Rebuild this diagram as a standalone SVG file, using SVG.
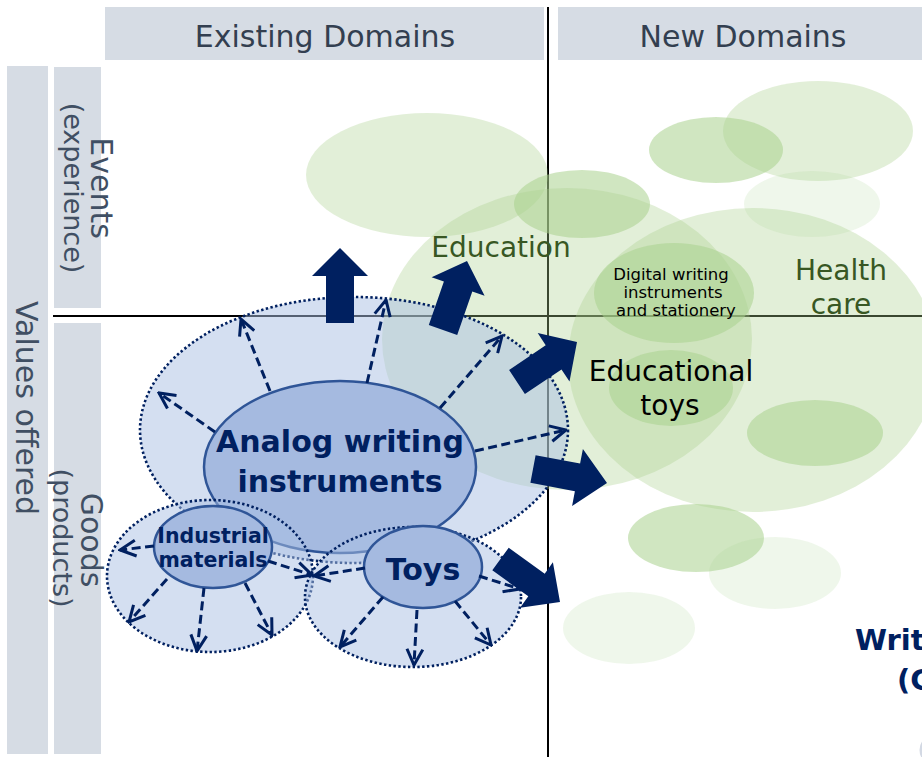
<svg xmlns="http://www.w3.org/2000/svg" width="922" height="757" viewBox="0 0 922 757">
<style>
.hdr{fill:#D6DCE4}
.hdrt{font-family:"DejaVu Sans",Verdana,sans-serif;font-size:30px;fill:#333F50;text-anchor:middle}
.side{font-family:"DejaVu Sans",Verdana,sans-serif;fill:#404F63;text-anchor:middle}
.axis{stroke:#000;stroke-width:2;fill:none}
.gL{fill:#A9D18E;opacity:0.34}
.gM{fill:#A9D18E;opacity:0.55}
.gP{fill:#A9D18E;opacity:0.18}
.gt{font-family:"DejaVu Sans",Verdana,sans-serif;font-size:28px;fill:#385723;text-anchor:middle}
.bt{font-family:"DejaVu Sans",Verdana,sans-serif;fill:#000;text-anchor:middle}
.outer{fill:#A9BFE3;fill-opacity:0.5;stroke:#002060;stroke-width:2.6;stroke-dasharray:2.4 2.4}
.inner{fill:#A5BAE0;stroke:#2F5597;stroke-width:2.5}
.nt{font-family:"DejaVu Sans",Verdana,sans-serif;font-weight:bold;fill:#002060;text-anchor:middle}
.da{stroke:#002060;stroke-width:3;stroke-dasharray:9 4.5;fill:none;marker-end:url(#oa)}
.blk{fill:#002060}
</style>
<defs>
<marker id="oa" viewBox="0 0 12 12" refX="11" refY="6" markerWidth="19" markerHeight="19" markerUnits="userSpaceOnUse" orient="auto">
<path d="M1,1 L11,6 L1,11" fill="none" stroke="#002060" stroke-width="1.9" stroke-dasharray="none"/>
</marker>
</defs>
<rect width="922" height="757" fill="#fff"/>
<g id="headers">
<rect class="hdr" x="105" y="7" width="439" height="53"/>
<rect class="hdr" x="558" y="7" width="364" height="53"/>
<text class="hdrt" x="325" y="47">Existing Domains</text>
<text class="hdrt" x="743" y="47">New Domains</text>
</g>
<g id="side-labels">
<rect class="hdr" x="7" y="66" width="41" height="688"/>
<rect class="hdr" x="54" y="67" width="47" height="241"/>
<rect class="hdr" x="54" y="323" width="47" height="431"/>
<text class="side" font-size="30" transform="translate(16,408) rotate(90)">Values offered</text>
<text class="side" font-size="30" transform="translate(91,188) rotate(90)">Events</text>
<text class="side" font-size="27" transform="translate(64,188) rotate(90)">(experience)</text>
<text class="side" font-size="30" transform="translate(81,540) rotate(90)">Goods</text>
<text class="side" font-size="27" transform="translate(53,538) rotate(90)">(products)</text>
</g>
<g id="axes">
<line class="axis" x1="548" y1="7" x2="548" y2="757"/>
<line class="axis" x1="53" y1="316" x2="922" y2="316"/>
</g>
<g id="green-areas">
<ellipse class="gL" cx="427" cy="175" rx="121" ry="62"/>
<ellipse class="gL" cx="818" cy="131" rx="95" ry="50"/>
<ellipse class="gM" cx="716" cy="150" rx="67" ry="33"/>
<ellipse class="gP" cx="812" cy="204" rx="68" ry="33"/>
<ellipse class="gM" cx="582" cy="204" rx="68" ry="34"/>
<ellipse class="gL" cx="567" cy="339" rx="185" ry="151"/>
<ellipse class="gL" cx="753" cy="360" rx="185" ry="152"/>
<ellipse class="gM" cx="674" cy="293" rx="80" ry="50"/>
<ellipse class="gM" cx="671" cy="388" rx="62" ry="38"/>
<ellipse class="gM" cx="815" cy="433" rx="68" ry="33"/>
<ellipse class="gM" cx="696" cy="538" rx="68" ry="34"/>
<ellipse class="gP" cx="775" cy="573" rx="66" ry="36"/>
<ellipse class="gP" cx="629" cy="628" rx="66" ry="36"/>
</g>
<g id="education">
<text class="gt" x="501" y="257">Education</text>
</g>
<g id="health-care">
<text class="gt" x="841" y="280">Health</text>
<text class="gt" x="841" y="314">care</text>
</g>
<g id="digital-writing">
<text class="bt" font-size="16.5" x="671" y="280">Digital writing</text>
<text class="bt" font-size="16.5" x="673" y="298">instruments</text>
<text class="bt" font-size="16.5" x="676" y="316">and stationery</text>
</g>
<g id="educational-toys">
<text class="bt" font-size="28" x="671" y="381">Educational</text>
<text class="bt" font-size="28" x="670" y="415">toys</text>
</g>
<g id="analog-writing">
<ellipse class="outer" cx="354" cy="430" rx="214" ry="133"/>
<ellipse class="inner" cx="340" cy="467" rx="136" ry="86"/>
<text class="nt" font-size="30" x="340" y="452">Analog writing</text>
<text class="nt" font-size="30" x="340" y="492">instruments</text>
</g>
<g id="industrial-materials">
<ellipse class="outer" cx="210" cy="576" rx="103" ry="76"/>
<ellipse class="inner" cx="213" cy="547" rx="59" ry="41"/>
<text class="nt" font-size="20.5" x="213" y="543">Industrial</text>
<text class="nt" font-size="20.5" x="213" y="567">materials</text>
</g>
<g id="toys">
<ellipse class="outer" cx="413" cy="597" rx="108" ry="70"/>
<ellipse class="inner" cx="423" cy="567" rx="59" ry="41"/>
<text class="nt" font-size="30" x="423" y="580">Toys</text>
</g>
<g id="writing-label">
<text class="nt" font-size="29" x="855" y="650" style="text-anchor:start">Writ</text>
<text class="nt" font-size="29" x="897" y="690" style="text-anchor:start">(C</text>
<ellipse cx="931" cy="750" rx="10" ry="12" fill="none" stroke="#D3D9E4" stroke-width="3"/>
</g>
<g id="connectors">
<line class="da" x1="270" y1="391" x2="241" y2="319"/>
<line class="da" x1="367" y1="383" x2="386" y2="300"/>
<line class="da" x1="440" y1="408" x2="502" y2="336"/>
<line class="da" x1="475" y1="451" x2="566" y2="430"/>
<line class="da" x1="215" y1="432" x2="159" y2="393"/>
<line class="da" x1="154" y1="546" x2="120" y2="550"/>
<line class="da" x1="167" y1="579" x2="129" y2="622"/>
<line class="da" x1="204" y1="588" x2="197" y2="651"/>
<line class="da" x1="245" y1="583" x2="272" y2="635"/>
<line class="da" x1="268" y1="561" x2="312" y2="575"/>
<line class="da" x1="365" y1="568" x2="314" y2="576"/>
<line class="da" x1="383" y1="597" x2="340" y2="647"/>
<line class="da" x1="417" y1="610" x2="414" y2="665"/>
<line class="da" x1="455" y1="601" x2="491" y2="645"/>
<line class="da" x1="479" y1="576" x2="520" y2="589"/>
<polygon class="blk" points="326,323 354,323 354,276 368,276 340,248 312,276 326,276"/>
<polygon class="blk" points="428.8,325.1 443.9,281.6 431.6,277.3 467,261 484.6,295.7 472.3,291.4 457.2,334.9"/>
<polygon class="blk" points="509.1,369.9 545.7,345.2 537.7,333 577,342 569.5,381.6 561.5,369.4 524.9,394.1"/>
<polygon class="blk" points="535.6,455.2 580.1,463.6 582.9,448.9 607,483 572.1,505.9 574.9,491.2 530.4,482.8"/>
<polygon class="blk" points="508.7,547.7 544.7,573.7 552.9,562.3 560,602 520.1,607.7 528.3,596.3 492.3,570.3"/>
</g>
</svg>
